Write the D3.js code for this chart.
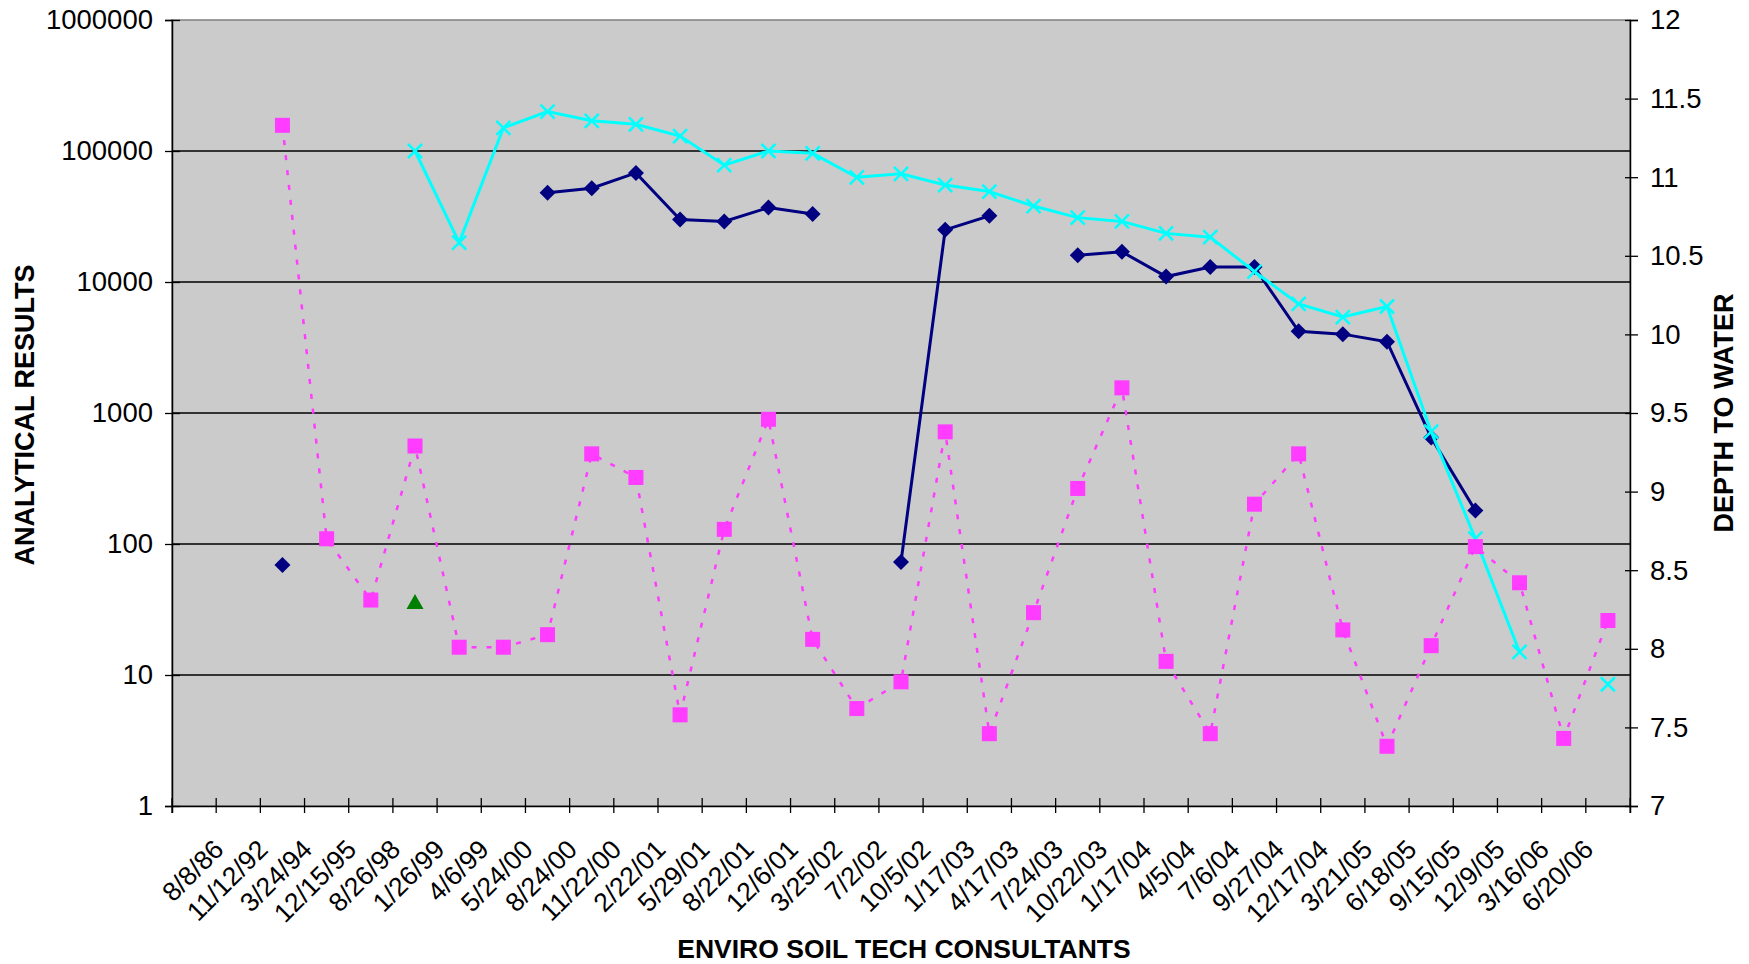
<!DOCTYPE html>
<html>
<head>
<meta charset="utf-8">
<script src="https://cdn.jsdelivr.net/npm/d3@7"></script>
<style>
  body { margin: 0; background: #fff; }
  text { font-family: "Liberation Sans", Arial, sans-serif; fill: #000; }
</style>
</head>
<body>
<svg id="svg" width="1749" height="964"></svg>
<script>
// sampling dates (first category is left blank)
var dates = ["", "8/8/86", "11/12/92", "3/24/94", "12/15/95", "8/26/98", "1/26/99", "4/6/99",
  "5/24/00", "8/24/00", "11/22/00", "2/22/01", "5/29/01", "8/22/01", "12/6/01", "3/25/02",
  "7/2/02", "10/5/02", "1/17/03", "4/17/03", "7/24/03", "10/22/03", "1/17/04", "4/5/04",
  "7/6/04", "9/27/04", "12/17/04", "3/21/05", "6/18/05", "9/15/05", "12/9/05", "3/16/06", "6/20/06"];

// analytical results (left, log axis)
var navySeries = [null, null, 69, null, null, null, null, null, 48000, 52000, 68000, 30000, 29000,
  37000, 33000, null, 73, 25000, 32000, null, 16000, 17000, 11000, 13000, 13000, 4200, 4000,
  3500, 650, 180, null, null, null];
var cyanSeries = [null, null, null, null, null, 100000, 20000, 150000, 200000, 170000, 160000,
  130000, 78000, 100000, 96000, 63000, 67000, 55000, 49000, 38000, 31000, 29000, 23500, 22000,
  12000, 6800, 5400, 6500, 720, 110, 15, null, 8.5];
var greenSeries = [null, null, null, null, null, 36, null, null, null, null, null, null, null,
  null, null, null, null, null, null, null, null, null, null, null, null, null, null, null,
  null, null, null, null, null];

// depth to water (right axis)
var depthSeries = [null, null, 11.33, 8.70, 8.31, 9.29, 8.01, 8.01, 8.09, 9.24, 9.09, 7.58, 8.76,
  9.46, 8.06, 7.62, 7.79, 9.38, 7.46, 8.23, 9.02, 9.66, 7.92, 7.46, 8.92, 9.24, 8.12, 7.38,
  8.02, 8.65, 8.42, 7.43, 8.18];

var leftTicks = [1, 10, 100, 1000, 10000, 100000, 1000000];
var rightTicks = [7, 7.5, 8, 8.5, 9, 9.5, 10, 10.5, 11, 11.5, 12];

var svg = d3.select('#svg');
var padding = {top: 20, right: 119, bottom: 158, left: 172};
var chartArea = {
  width: 1749 - padding.left - padding.right,
  height: 964 - padding.top - padding.bottom
};

var xScale = d3.scaleBand()
  .domain(d3.range(dates.length))
  .range([0, chartArea.width]);
var yScale = d3.scaleLog()
  .domain([1, 1000000])
  .range([chartArea.height, 0]);
var y2Scale = d3.scaleLinear()
  .domain([7, 12])
  .range([chartArea.height, 0]);

function cx(i) { return xScale(i) + xScale.bandwidth() / 2; }

var g = svg.append('g')
  .attr('transform', 'translate(' + padding.left + ',' + padding.top + ')');

// plot background
g.append('rect')
  .attr('width', chartArea.width)
  .attr('height', chartArea.height)
  .attr('fill', '#cbcbcb')
  .attr('stroke', '#808080')
  .attr('stroke-width', 1.5);

// gridlines
g.append('g').selectAll('line').data(leftTicks.slice(1, -1)).enter()
  .append('line')
  .attr('x1', 0).attr('x2', chartArea.width)
  .attr('y1', function(d) { return yScale(d); })
  .attr('y2', function(d) { return yScale(d); })
  .attr('stroke', '#000')
  .attr('stroke-width', 1.5);

// axes
var xAxis = g.append('g')
  .attr('transform', 'translate(0,' + chartArea.height + ')')
  .call(d3.axisBottom(xScale).tickSize(7).tickFormat(function(i) { return dates[i]; }));
xAxis.selectAll('.tick').attr('transform', function(i) { return 'translate(' + xScale(i) + ',0)'; });
xAxis.selectAll('.tick line').attr('y1', -8).attr('y2', 7);
xAxis.append('line').attr('x1', chartArea.width).attr('x2', chartArea.width)
  .attr('y1', -8).attr('y2', 7).attr('stroke', '#000');
xAxis.selectAll('.tick text')
  .attr('transform', 'translate(' + (xScale.bandwidth() / 2 - 13) + ',45) rotate(-45)')
  .attr('x', 0).attr('y', 0).attr('dy', null)
  .attr('text-anchor', 'end');

var yAxis = g.append('g')
  .call(d3.axisLeft(yScale).tickValues(leftTicks).tickSize(7).tickFormat(d3.format('d')));
yAxis.selectAll('.tick line').attr('x1', -7).attr('x2', 8);
yAxis.selectAll('.tick text').attr('x', -19);

var y2Axis = g.append('g')
  .attr('transform', 'translate(' + chartArea.width + ',0)')
  .call(d3.axisRight(y2Scale).tickValues(rightTicks).tickSize(8).tickFormat(d3.format('')));
y2Axis.selectAll('.tick line').attr('x1', -5).attr('x2', 8);
y2Axis.selectAll('.tick text').attr('x', 20);

[xAxis, yAxis, y2Axis].forEach(function(a) {
  a.selectAll('.domain').attr('stroke', '#000').attr('stroke-width', 1.5);
  a.selectAll('.tick line').attr('stroke', '#000').attr('stroke-width', 1.3);
  a.selectAll('text').attr('font-size', 27.5).attr('font-family', '"Liberation Sans", Arial, sans-serif');
});
xAxis.selectAll('text').attr('font-size', 26.5);

// lines
var logLine = d3.line()
  .defined(function(d) { return d != null; })
  .x(function(d, i) { return cx(i); })
  .y(function(d) { return yScale(d); });
var depthLine = d3.line()
  .defined(function(d) { return d != null; })
  .x(function(d, i) { return cx(i); })
  .y(function(d) { return y2Scale(d); });

g.append('path').datum(navySeries)
  .attr('d', logLine)
  .attr('fill', 'none').attr('stroke', '#000080').attr('stroke-width', 3);
g.append('g').selectAll('path')
  .data(navySeries.map(function(d, i) { return {v: d, i: i}; }).filter(function(d) { return d.v != null; }))
  .enter().append('path')
  .attr('d', 'M0,-8L8,0L0,8L-8,0Z')
  .attr('fill', '#000080')
  .attr('transform', function(d) { return 'translate(' + cx(d.i) + ',' + yScale(d.v) + ')'; });

g.append('path').datum(cyanSeries)
  .attr('d', logLine)
  .attr('fill', 'none').attr('stroke', '#00ffff').attr('stroke-width', 3);
g.append('g').selectAll('path')
  .data(cyanSeries.map(function(d, i) { return {v: d, i: i}; }).filter(function(d) { return d.v != null; }))
  .enter().append('path')
  .attr('d', 'M-7,-7L7,7M-7,7L7,-7')
  .attr('stroke', '#00ffff').attr('stroke-width', 2.5)
  .attr('transform', function(d) { return 'translate(' + cx(d.i) + ',' + yScale(d.v) + ')'; });

g.append('g').selectAll('path')
  .data(greenSeries.map(function(d, i) { return {v: d, i: i}; }).filter(function(d) { return d.v != null; }))
  .enter().append('path')
  .attr('d', 'M0,-8L8.5,7L-8.5,7Z')
  .attr('fill', '#008000')
  .attr('transform', function(d) { return 'translate(' + cx(d.i) + ',' + yScale(d.v) + ')'; });

g.append('path').datum(depthSeries)
  .attr('d', depthLine)
  .attr('fill', 'none').attr('stroke', '#ff3cff').attr('stroke-width', 2.5)
  .attr('stroke-dasharray', '5,10');
g.append('g').selectAll('rect')
  .data(depthSeries.map(function(d, i) { return {v: d, i: i}; }).filter(function(d) { return d.v != null; }))
  .enter().append('rect')
  .attr('x', function(d) { return cx(d.i) - 7.5; })
  .attr('y', function(d) { return y2Scale(d.v) - 7.5; })
  .attr('width', 15).attr('height', 15)
  .attr('fill', '#ff3cff');

// titles
svg.append('text')
  .attr('x', 904)
  .attr('y', 958)
  .attr('text-anchor', 'middle')
  .attr('font-size', 26.5).attr('font-weight', 'bold')
  .text('ENVIRO SOIL TECH CONSULTANTS');
svg.append('text')
  .attr('transform', 'translate(34,415) rotate(-90)')
  .attr('text-anchor', 'middle')
  .attr('font-size', 27).attr('font-weight', 'bold')
  .text('ANALYTICAL RESULTS');
svg.append('text')
  .attr('transform', 'translate(1733,413) rotate(-90)')
  .attr('text-anchor', 'middle')
  .attr('font-size', 27).attr('font-weight', 'bold')
  .text('DEPTH TO WATER');
</script>
</body>
</html>
